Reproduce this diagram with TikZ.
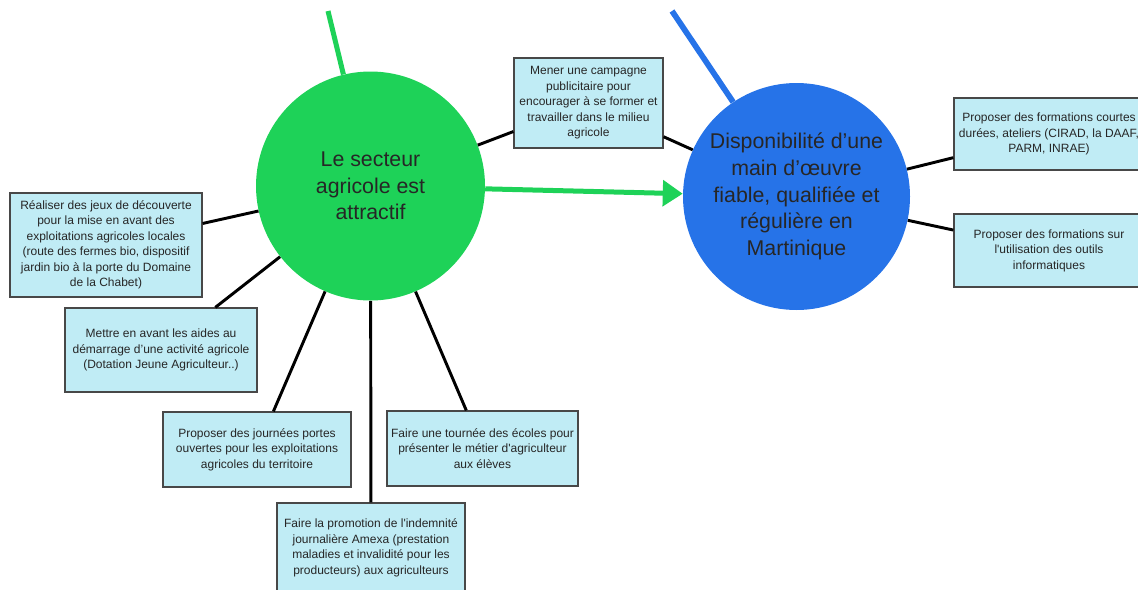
\documentclass[tikz,border=0pt]{standalone}
\usepackage{fontspec}
\setmainfont{Liberation Sans}
\usetikzlibrary{arrows.meta}
\definecolor{agrigreen}{RGB}{30,210,88}
\definecolor{mainblue}{RGB}{38,115,232}
\definecolor{boxcyan}{RGB}{192,236,245}
\definecolor{boxedge}{RGB}{72,72,72}
\tikzset{
  action/.style={draw=boxedge, line width=0.9pt, fill=boxcyan, align=center,
    inner sep=0pt, text=black!85, font=\fontsize{9}{11.6}\selectfont},
  goal/.style={circle, inner sep=0pt, align=center, text=black!85,
    font=\fontsize{16}{20}\selectfont},
  link/.style={line width=2.2pt, black}
}

\begin{document}
\begin{tikzpicture}[x=0.75pt, y=-0.75pt]
    \useasboundingbox (0,0) rectangle (1138,589);
    % the two goals
    \node[goal, fill=agrigreen, minimum size=171.75pt] (agri) at (370.5,186)
        {Le secteur\\agricole est\\attractif};
    \node[goal, fill=mainblue, minimum size=170.25pt] (main) at (796.5,196.5)
        {Disponibilité d’une\\main d’œuvre\\fiable, qualifiée et\\régulière en\\Martinique};
    \coordinate (gtop) at (328,11);
    \coordinate (btop) at (672,11);
    % actions
    \node[action, minimum width=111.75pt, minimum height=67.5pt] (campagne) at (588.5,103)
        {Mener une campagne\\publicitaire pour\\encourager à se former et\\travailler dans le milieu\\agricole};
    \node[action, minimum width=142.5pt, minimum height=54pt] (courtes) at (1049,134)
        {Proposer des formations courtes\\durées, ateliers (CIRAD, la DAAF,\\PARM, INRAE)};
    \node[action, minimum width=142.5pt, minimum height=54.75pt] (outils) at (1049,250.5)
        {Proposer des formations sur\\l\textquotesingle utilisation des outils\\informatiques};
    \node[action, minimum width=144pt, minimum height=78pt] (jeux) at (106,245)
        {Réaliser des jeux de découverte\\pour la mise en avant des\\exploitations agricoles locales\\(route des fermes bio, dispositif\\jardin bio à la porte du Domaine\\de la Chabet)};
    \node[action, minimum width=144pt, minimum height=63pt] (aides) at (161,350)
        {Mettre en avant les aides au\\démarrage d’une activité agricole\\(Dotation Jeune Agriculteur..)};
    \node[action, minimum width=141pt, minimum height=56.25pt] (portes) at (257,449.5)
        {Proposer des journées portes\\ouvertes pour les exploitations\\agricoles du territoire};
    \node[action, minimum width=143.25pt, minimum height=56.25pt] (ecoles) at (482.5,448.5)
        {Faire une tournée des écoles pour\\présenter le métier d\textquotesingle agriculteur\\aux élèves};
    \node[action, minimum width=141pt, minimum height=67.5pt] (amexa) at (371,548)
        {Faire la promotion de l\textquotesingle indemnité\\journalière Amexa (prestation\\maladies et invalidité pour les\\producteurs) aux agriculteurs};
    % connectors
    \draw[line width=3.75pt, agrigreen] (gtop) -- (agri);
    \draw[line width=4.3pt, mainblue] (btop) -- (main);
    \draw[line width=3.75pt, agrigreen, -{Triangle[length=15pt,width=19pt]}] (agri) -- (main);
    \draw[link] (agri) -- (campagne);
    \draw[link] (campagne) -- (main);
    \draw[link] (main) -- (courtes);
    \draw[link] (main) -- (outils);
    \draw[link] (agri) -- (jeux);
    \draw[link] (agri) -- (aides);
    \draw[link] (agri) -- (portes);
    \draw[link] (agri) -- (ecoles);
    \draw[link] (agri) -- (amexa);
\end{tikzpicture}
\end{document}
